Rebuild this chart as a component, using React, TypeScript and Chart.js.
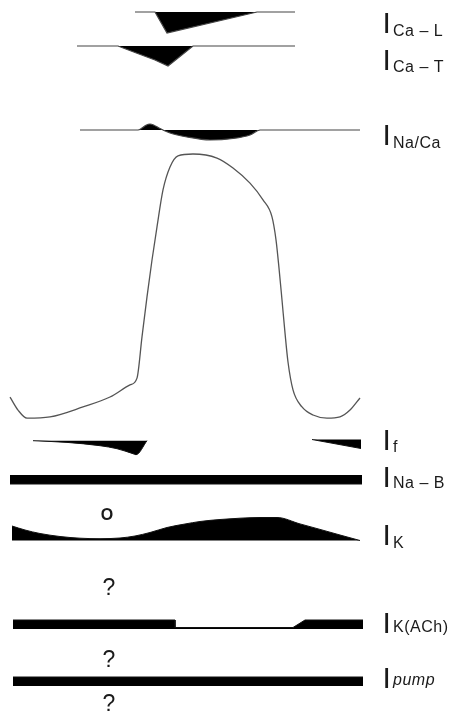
import React, { useEffect, useRef } from "react";
import { Chart, registerables } from "chart.js";

Chart.register(...registerables);

// ---- Data (time in ms from the start of the cycle) ----
// Sino-atrial action potential, membrane potential in mV
const AP_T = [0, 8, 17, 40, 73, 100, 120, 127, 132, 137, 142, 147, 153, 160, 168, 183, 207, 223, 240, 253, 262, 266, 269, 272, 275, 278, 283, 292, 303, 317, 330, 340, 350];
const AP_V = [-58.4, -62.6, -65.2, -64.8, -61.6, -58.4, -54.5, -52.3, -39, -26.1, -14.2, -3.5, 8.4, 15.8, 19.4, 20, 18.7, 15.5, 10.6, 5.2, -0.3, -7.7, -16.8, -27.1, -37.7, -47.1, -56.1, -61.6, -64.2, -65.2, -64.8, -62.6, -58.7];

// Currents in relative units (outward positive, inward negative)
const CAL_T = [125, 145, 157, 247, 285];
const CAL_I = [0, 0, -21, 0, 0];

const CAT_T = [67, 108, 125, 145, 158, 183, 285];
const CAT_I = [0, 0, -6.5, -14, -20, 0, 0];

const NACA_T = [70, 128, 132, 136, 140, 144, 149, 153, 160, 177, 200, 223, 240, 250, 350];
const NACA_I = [0, 0, 2, 4.8, 6, 4.8, 2, 0, -3, -7, -10, -8.5, -5, 0, 0];

const IF_T_A = [23, 57, 90, 107, 123, 126, 137];
const IF_I_A = [0, -1.7, -5, -8, -13, -14, 0];
const IF_T_B = [302, 351];
const IF_I_B = [0, -9];

const NAB_T = [0, 352];
const NAB_I = [-9, -9];

const IK_T = [2, 15, 30, 50, 70, 90, 110, 125, 140, 157, 175, 190, 210, 230, 250, 267, 290, 310, 330, 350];
const IK_I = [14.5, 10.5, 7, 4, 2.3, 1.8, 2.5, 4.5, 8, 13, 16.5, 19, 21, 22.3, 23, 23, 16.6, 11.1, 5.5, 0];

const KACH_T = [3, 165, 165, 283, 295, 353];
const KACH_I = [9, 9, 1.5, 1.5, 9, 9];

const PUMP_T = [3, 353];
const PUMP_I = [9, 9];

// Labels
const LABEL_SUBS = ["Ca – L", "Ca – T", "Na/Ca", "f", "Na – B", "K", "K(ACh)", "pump"];
const NOTE_TEXTS = ["O", "?", "?", "?"];

// ---- Layout (rows of the drawing) ----
const AP_ROW0 = 216; // row of 0 mV
const AP_K = 3.1; // rows per mV
const BASE = { cal: 12, cat: 46, naca: 130, ifa: 440.7, ifb: 439.5, nab: 475, ik: 540.5, kach: 629, pump: 686 };
const LABEL_ROWS = [33, 70, 145, 450, 487, 545, 633, 688];
const SUB_ROWS = [36, 72, 148, 452, 488, 548, 632, 685];
const NOTE_ROWS = [520, 595, 667, 711];
const NOTE_T = [97, 99, 99, 99];

function trace(ts: number[], vs: number[], base: number) {
  return ts.map((t, i) => ({ x: t, y: base - vs[i] }));
}

const labelPlugin = {
  id: "labels",
  afterDatasetsDraw(chart: any) {
    const ctx = chart.ctx;
    const y = chart.scales.y;
    const x = chart.scales.x;
    ctx.save();
    ctx.fillStyle = "#1a1a1a";
    ctx.textBaseline = "alphabetic";
    const ix = x.getPixelForValue(372.5);
    const sx = x.getPixelForValue(383);
    LABEL_SUBS.forEach((sub, i) => {
      ctx.letterSpacing = "0px";
      ctx.font = '30px "Liberation Sans", Arial, sans-serif';
      ctx.textAlign = "left";
      ctx.fillText("I", ix, y.getPixelForValue(LABEL_ROWS[i]));
      const italic = sub === "pump";
      ctx.font = (italic ? "italic " : "") + '16px "Liberation Sans", Arial, sans-serif';
      ctx.letterSpacing = "0.5px";
      ctx.fillText(sub, sx, y.getPixelForValue(SUB_ROWS[i]));
    });
    ctx.letterSpacing = "0px";
    ctx.textAlign = "center";
    NOTE_TEXTS.forEach((txt, i) => {
      ctx.font = txt === "O" ? 'bold 16px "Liberation Sans", Arial, sans-serif' : '23px "Liberation Sans", Arial, sans-serif';
      ctx.fillText(txt, x.getPixelForValue(NOTE_T[i]), y.getPixelForValue(NOTE_ROWS[i]));
    });
    ctx.restore();
  },
};

export default function App() {
  const ref = useRef<HTMLCanvasElement | null>(null);
  useEffect(() => {
    if (!ref.current) return;
    const fillDs = (data: any[], base: number, border = "#111", bw = 1) => ({
      data,
      borderColor: border,
      borderWidth: bw,
      backgroundColor: "#000",
      fill: { value: base },
      pointRadius: 0,
      tension: 0,
    });
    const apData = AP_T.map((t, i) => ({ x: t, y: AP_ROW0 - AP_V[i] * AP_K }));
    const chart = new Chart(ref.current, {
      type: "line",
      data: {
        datasets: [
          fillDs(trace(CAL_T, CAL_I, BASE.cal), BASE.cal, "#444", 1.2),
          fillDs(trace(CAT_T, CAT_I, BASE.cat), BASE.cat, "#444", 1.2),
          { ...fillDs(trace(NACA_T, NACA_I, BASE.naca), BASE.naca, "#444", 1.2), cubicInterpolationMode: "monotone" },
          {
            data: apData,
            borderColor: "#555",
            borderWidth: 1.3,
            fill: false,
            pointRadius: 0,
            cubicInterpolationMode: "monotone",
          },
          { ...fillDs(trace(IF_T_A, IF_I_A, BASE.ifa), BASE.ifa), cubicInterpolationMode: "monotone" },
          fillDs(trace(IF_T_B, IF_I_B, BASE.ifb), BASE.ifb),
          fillDs(trace(NAB_T, NAB_I, BASE.nab), BASE.nab),
          { ...fillDs(trace(IK_T, IK_I, BASE.ik), BASE.ik), cubicInterpolationMode: "monotone" },
          fillDs(trace(KACH_T, KACH_I, BASE.kach), BASE.kach),
          fillDs(trace(PUMP_T, PUMP_I, BASE.pump), BASE.pump),
        ] as any,
      },
      options: {
        animation: false,
        responsive: false,
        events: [],
        layout: { padding: { left: 8, right: 86, top: 0, bottom: 0 } },
        plugins: { legend: { display: false }, tooltip: { enabled: false } },
        scales: {
          x: { type: "linear", min: -2, max: 356, display: false },
          y: { type: "linear", min: 0, max: 717, reverse: true, display: false },
        },
      },
      plugins: [labelPlugin],
    });
    return () => chart.destroy();
  }, []);
  return (
    <div style={{ position: "fixed", left: 0, top: 0, width: 452, height: 717, background: "#fff" }}>
      <canvas ref={ref} width={452} height={717} style={{ display: "block" }} />
    </div>
  );
}
